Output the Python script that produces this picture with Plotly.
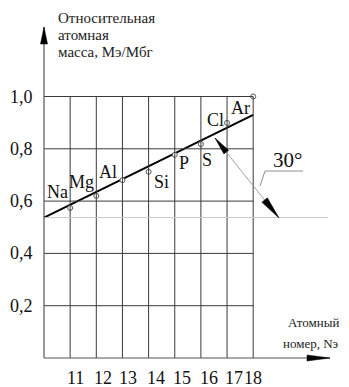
import numpy as np
import plotly.graph_objects as go

# atomic numbers and relative atomic mass values
elements = ["Na", "Mg", "Al", "Si", "P", "S", "Cl", "Ar"]
z_numbers = [11, 12, 13, 14, 15, 16, 17, 18]
rel_mass = [0.574, 0.62, 0.68, 0.712, 0.777, 0.818, 0.899, 1.0]

# fitted straight line
fit_x = [10, 18]
fit_y = [0.537, 0.93]

y_ticks = [0.2, 0.4, 0.6, 0.8, 1.0]
y_tick_labels = ["0,2", "0,4", "0,6", "0,8", "1,0"]
x_tick_labels = ["11", "12", "13", "14", "15", "16", "17", "18"]

# label offsets in px (style only)
label_dx = [-13, -15, -14, 13, 9, 6, -12, -13]
label_dy = [16, 14, 8, -10, -8, -16, 3, -11]
xtick_dx = [5, 7, 6, 7, 7, 8, 7, 0]

# page has an 8px body margin, so the figure is a bit smaller than the window
PAD = 8
W, H = 349 - PAD, 387 - PAD
PX_X, PX_Y = 26.15, 261.5          # px per data unit
X0 = 10 - (44 - PAD) / PX_X
Y1 = (358 - PAD) / PX_Y
X1 = X0 + W / PX_X
Y0 = Y1 - H / PX_Y


def px(x, y):
    # window pixel position -> data coordinates (for decorations)
    return X0 + (x - PAD) / PX_X, Y1 - (y - PAD) / PX_Y


def head(tip, frm, length, half):
    tx, ty = tip
    d = np.array([tx - frm[0], ty - frm[1]], float)
    d /= np.linalg.norm(d)
    n = np.array([-d[1], d[0]])
    b = np.array(tip) - length * d
    pts = [tip, b + half * n, b - half * n]
    s = ""
    for i, p in enumerate(pts):
        x, y = px(*p)
        s += ("M" if i == 0 else "L") + f"{x:.4f},{y:.4f} "
    return s + "Z"


FONT = "Liberation Serif"
GRID = "#3a3a3a"
shapes = []

for z in z_numbers:
    shapes.append(dict(type="line", x0=z, x1=z, y0=0, y1=1.0,
                       line=dict(color=GRID, width=1)))
for v in y_ticks:
    shapes.append(dict(type="line", x0=10, x1=18, y0=v, y1=v,
                       line=dict(color=GRID, width=1)))

# light baseline for the angle
bx, _ = px(328, 0)
shapes.append(dict(type="line", x0=10, x1=bx, y0=fit_y[0], y1=fit_y[0],
                   line=dict(color="#c8c8c8", width=1)))

# axes
ytip = px(44, 27)
xtip = px(330, 358)
shapes.append(dict(type="line", x0=10, x1=10, y0=0, y1=ytip[1],
                   line=dict(color="#555", width=1.2)))
shapes.append(dict(type="line", x0=10, x1=xtip[0], y0=0, y1=0,
                   line=dict(color="#555", width=1.2)))
shapes.append(dict(type="path", path=head((44, 27), (44, 100), 17, 3.5),
                   fillcolor="black", line=dict(color="black", width=0.5)))
shapes.append(dict(type="path", path=head((330, 358), (250, 358), 23, 3),
                   fillcolor="black", line=dict(color="black", width=0.5)))

# double arrow from line to baseline
a0, a1 = (215, 138), (279, 218)
p0, p1 = px(*a0), px(*a1)
shapes.append(dict(type="line", x0=p0[0], y0=p0[1], x1=p1[0], y1=p1[1],
                   line=dict(color="#a0a0a0", width=1)))
shapes.append(dict(type="path", path=head(a0, a1, 18, 3),
                   fillcolor="black", line=dict(color="black", width=0.5)))
shapes.append(dict(type="path", path=head(a1, a0, 23, 3.5),
                   fillcolor="black", line=dict(color="black", width=0.5)))

# leader line for the angle label
l0, l1, l2 = px(260, 186), px(265, 171), px(303, 171)
shapes.append(dict(type="path",
                   path=f"M{l0[0]},{l0[1]} L{l1[0]},{l1[1]} L{l2[0]},{l2[1]}",
                   line=dict(color="#909090", width=1)))

fig = go.Figure()
fig.add_trace(go.Scatter(x=fit_x, y=fit_y, mode="lines",
                         line=dict(color="black", width=2), hoverinfo="skip"))
fig.add_trace(go.Scatter(x=z_numbers, y=rel_mass, mode="markers",
                         marker=dict(size=5, color="white",
                                     line=dict(color="#555", width=1))))

ann = []
for el, z, m, dx, dy in zip(elements, z_numbers, rel_mass, label_dx, label_dy):
    ann.append(dict(x=z, y=m, text=el, showarrow=False, xshift=dx, yshift=dy,
                    font=dict(family=FONT, size=18, color="#111")))
for z, t, dx in zip(z_numbers, x_tick_labels, xtick_dx):
    ann.append(dict(x=z, y=px(0, 378)[1], text=t, showarrow=False, xshift=dx,
                    font=dict(family=FONT, size=18, color="#111")))
for v, t in zip(y_ticks, y_tick_labels):
    ann.append(dict(x=px(35, 0)[0], y=v, text=t, showarrow=False, xanchor="right",
                    font=dict(family=FONT, size=18, color="#111")))

for i, line in enumerate(["Относительная", "атомная", "масса, Мэ/Мбг"]):
    ann.append(dict(x=px(57, 0)[0], y=px(0, 18 + 17 * i)[1], text=line,
                    showarrow=False, xanchor="left", borderpad=0,
                    font=dict(family=FONT, size=15, color="#222")))
for line, yy in zip(["Атомный", "номер, Nэ"], [322, 343]):
    ann.append(dict(x=px(340, 0)[0], y=px(0, yy)[1], text=line,
                    showarrow=False, xanchor="right", borderpad=0,
                    font=dict(family=FONT, size=13, color="#222")))
ann.append(dict(x=px(287, 0)[0], y=px(0, 160)[1], text="30°", showarrow=False,
                font=dict(family=FONT, size=21, color="#111")))

fig.update_layout(width=W, height=H, margin=dict(l=0, r=0, t=0, b=0),
                  paper_bgcolor="white", plot_bgcolor="white",
                  showlegend=False, shapes=shapes, annotations=ann,
                  xaxis=dict(range=[X0, X1], visible=False, fixedrange=True),
                  yaxis=dict(range=[Y0, Y1], visible=False, fixedrange=True))
fig.write_html("out.html")
